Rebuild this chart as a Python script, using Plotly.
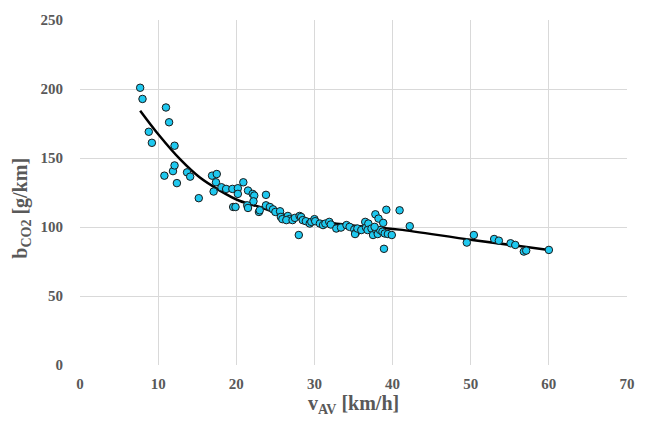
import plotly.graph_objects as go

# speed v_AV [km/h]
v_av = [7.7, 8.0, 8.8, 9.2, 10.8, 11.0, 11.4, 11.9, 12.1, 12.1, 12.4, 13.7, 14.1, 15.2,
        16.9, 17.5, 17.4, 17.1, 18.1, 18.7, 19.5, 20.2, 20.2, 20.9, 21.5, 22.1, 22.3, 22.2,
        19.6, 19.9, 21.4, 21.5, 22.9, 23.0, 23.8, 23.8,
        24.3, 24.7, 25.0, 25.6, 25.7, 25.9, 26.6, 26.8, 26.4, 27.2, 27.5, 28.1, 28.3, 28.5,
        28.9, 29.4, 29.6, 30.0, 30.1, 30.7, 31.1, 31.4, 31.9, 32.1, 32.8, 28.0,
        33.4, 34.1, 34.5, 35.1, 35.3, 35.2, 35.5, 36.0, 36.5, 36.6, 36.9, 36.8, 37.3, 37.5,
        37.8, 37.9, 38.1, 38.2, 38.4, 38.7, 38.8, 39.2, 39.0, 39.4, 39.9, 40.9, 42.2, 38.9,
        37.7,
        49.5, 50.4, 53.0, 53.6, 55.1, 55.7, 56.8, 57.1, 60.0]
# CO2 emission b_CO2 [g/km]
b_co2 = [200.9, 192.8, 169.0, 161.0, 137.2, 186.6, 175.9, 140.5, 144.6, 158.9, 131.8, 139.6, 136.5, 120.9,
         137.2, 138.4, 132.4, 125.7, 128.8, 127.6, 127.6, 128.1, 124.0, 132.4, 126.4, 124.0, 122.8, 118.6,
         114.5, 114.5, 115.7, 113.8, 110.9, 112.1, 123.3, 115.7,
         114.5, 112.8, 110.9, 111.4, 107.3, 105.7, 108.0, 105.7, 105.0, 105.0, 106.6, 108.0, 107.3, 105.0,
         104.2, 102.5, 103.7, 105.7, 104.2, 102.5, 101.4, 102.5, 103.7, 101.8, 98.9, 94.2,
         99.6, 101.4, 100.1, 98.2, 95.8, 94.9, 98.9, 97.8, 103.7, 99.6, 102.5, 97.8, 98.9, 94.2,
         109.2, 97.8, 94.9, 106.1, 97.8, 96.6, 103.0, 112.5, 95.3, 94.9, 94.2, 112.1, 100.6, 84.2,
         100.1,
         88.7, 94.2, 91.3, 90.1, 88.2, 87.0, 82.2, 82.9, 83.4]

# trend line
trend_v = [7.7, 10.2, 12.8, 15.3, 17.9, 20.4, 23.0, 25.5, 28.1, 30.7, 33.2, 35.8, 38.3, 40.9, 50.2, 60.0]
trend_b = [184.3, 165.9, 149.1, 136.0, 126.4, 119.0, 114.5, 109.7, 106.6, 104.2, 102.1, 100.6, 99.4, 98.1, 90.6, 83.4]

x_ticks = [0, 10, 20, 30, 40, 50, 60, 70]
y_ticks = [0, 50, 100, 150, 200, 250]

fig = go.Figure()
fig.add_trace(go.Scatter(x=trend_v, y=trend_b, mode="lines",
                         line=dict(color="black", width=2.5, shape="spline", smoothing=1.0),
                         hoverinfo="skip"))
fig.add_trace(go.Scatter(x=v_av, y=b_co2, mode="markers",
                         marker=dict(size=7.5, color="#1FC8EF",
                                     line=dict(color="#1a1a1a", width=1))))

font_family = "Liberation Serif, Times New Roman, serif"
axis_common = dict(showgrid=True, gridcolor="#d9d9d9", gridwidth=1,
                   zeroline=False, showline=False,
                   tickfont=dict(family=font_family, size=15, color="#595959", weight="bold"),
                   ticks="")
fig.update_xaxes(range=[0, 70], tickvals=x_ticks, ticklabelstandoff=8, **axis_common)
fig.update_yaxes(range=[0, 250], tickvals=y_ticks, ticklabelstandoff=16, **axis_common)

fig.update_layout(
    width=647, height=423,
    margin=dict(l=80, r=19, t=16, b=58),
    paper_bgcolor="white", plot_bgcolor="white",
    showlegend=False,
    annotations=[
        dict(text="<b>v<sub>AV</sub> [km/h]</b>", xref="paper", yref="paper",
             x=0.5, y=-0.115, xanchor="center", yanchor="middle", showarrow=False,
             font=dict(family=font_family, size=20, color="#595959")),
        dict(text="<b>b<sub>CO2</sub> [g/km]</b>", xref="paper", yref="paper",
             x=-0.106, y=0.453, xanchor="center", yanchor="middle", showarrow=False,
             textangle=-90,
             font=dict(family=font_family, size=20, color="#595959")),
    ],
)
fig.write_html("out.html")
